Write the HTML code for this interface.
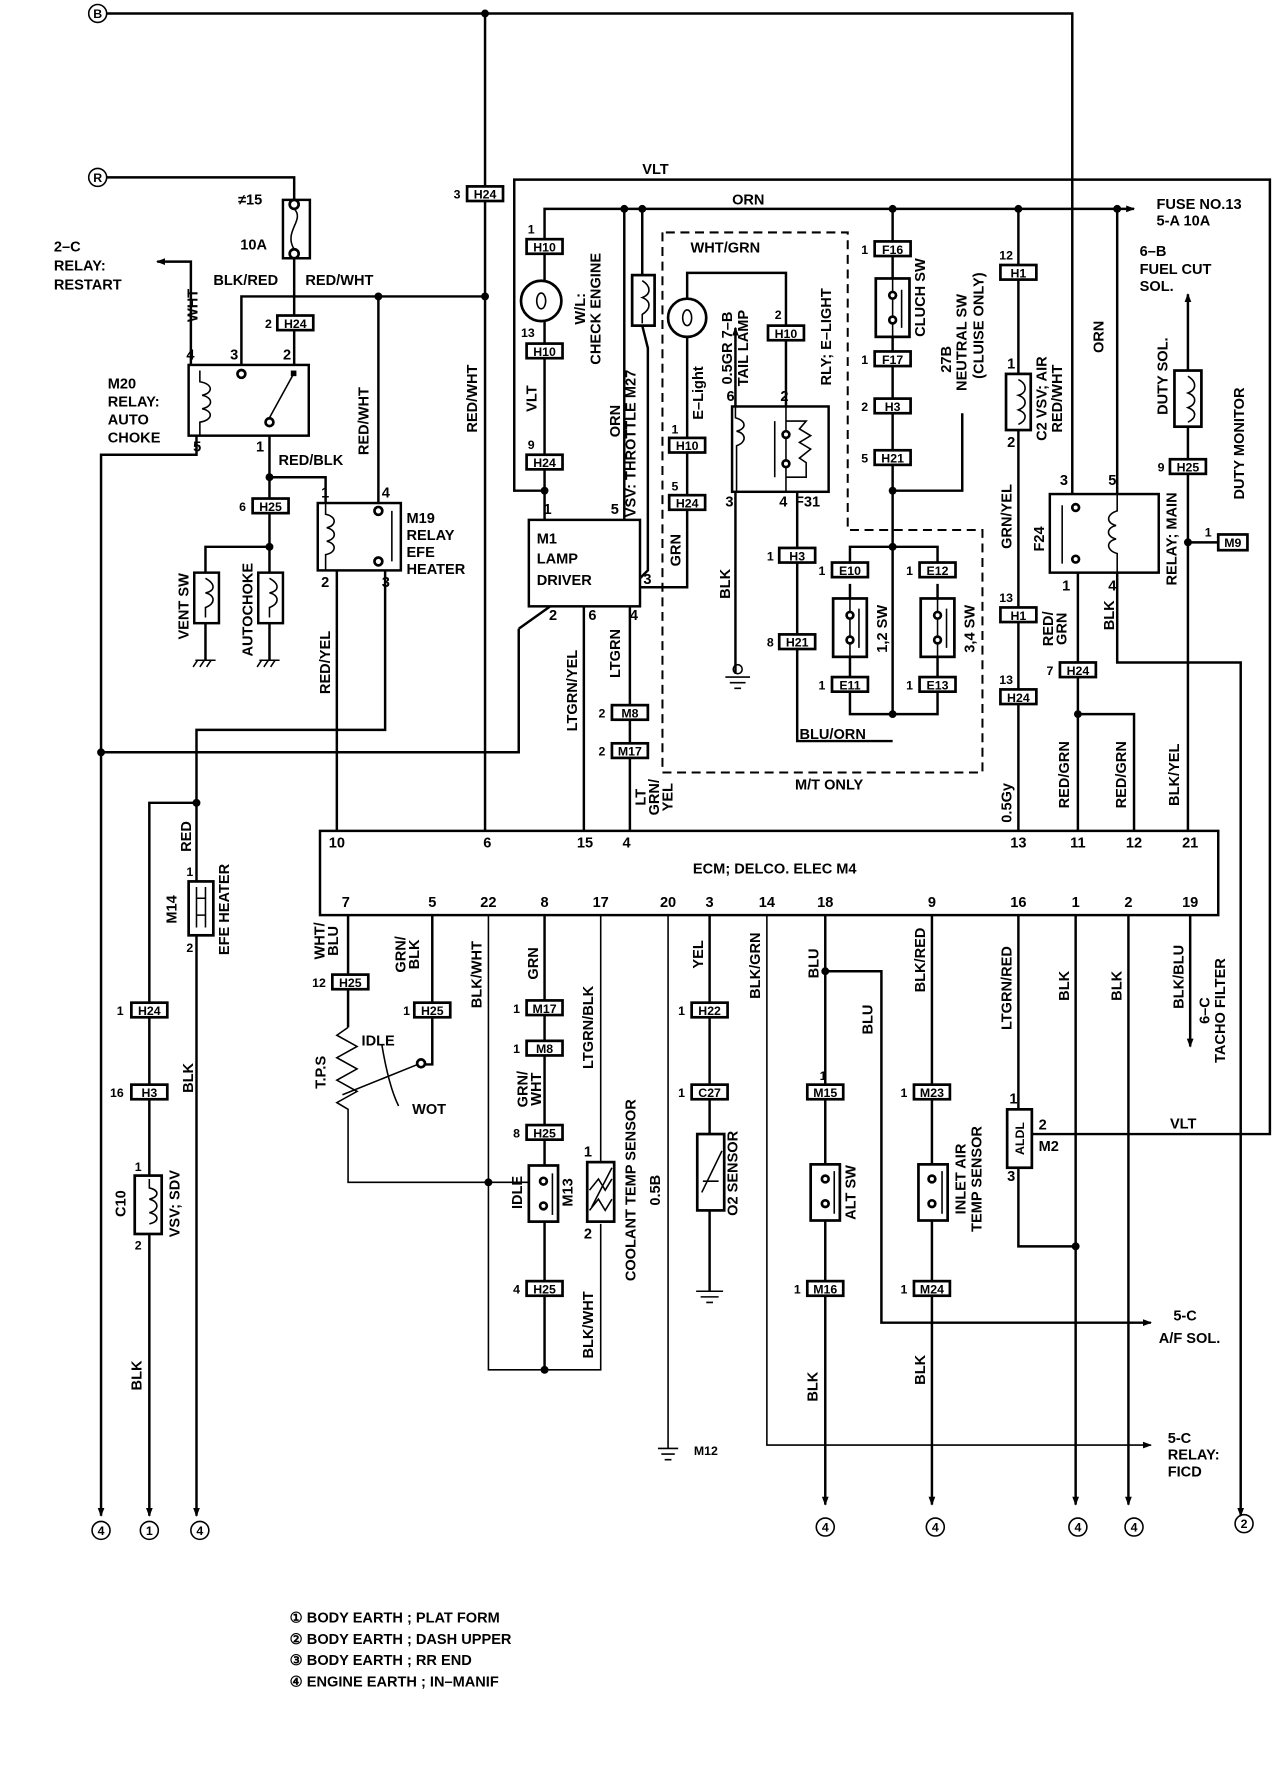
<!DOCTYPE html>
<html><head><meta charset="utf-8"><style>
html,body{margin:0;padding:0;background:#fff}
svg{display:block}
text{font-family:"Liberation Sans",sans-serif;font-weight:bold;font-size:13px;fill:#000}
.w{stroke:#000;stroke-width:2.2;fill:none}
.t{stroke:#000;stroke-width:1.4;fill:none}
.d{stroke:#000;stroke-width:1.8;fill:none;stroke-dasharray:8 5}
.b{stroke:#000;stroke-width:2.4;fill:#fff}
.c{font-size:11px}
.j{fill:#000}
</style></head><body>
<svg width="1280" height="1768" viewBox="0 0 1140 1574.6" xmlns="http://www.w3.org/2000/svg">
<defs>
<marker id="a" markerWidth="8" markerHeight="8" refX="7" refY="4" orient="auto" markerUnits="userSpaceOnUse"><path d="M0,1 L8,4 L0,7 Z"/></marker>
</defs>

<!-- B & R -->
<circle cx="87" cy="12" r="8" class="t" stroke-width="2"/><text x="87" y="16" text-anchor="middle" class="c">B</text>
<path class="w" d="M95,12 H955 V440"/>
<circle cx="432" cy="12" r="3.5" class="j"/>
<circle cx="87" cy="158" r="8" class="t" stroke-width="2"/><text x="87" y="162" text-anchor="middle" class="c">R</text>
<path class="w" d="M95,158 H262 V178"/>
<!-- fuse -->
<rect x="252" y="178" width="24" height="52" class="w"/>
<circle cx="262" cy="182" r="4" class="b"/><circle cx="262" cy="226" r="4" class="b"/>
<path class="t" d="M262,186 C272,196 252,206 262,222"/>
<text x="212" y="182">≠15</text><text x="214" y="222">10A</text>
<path class="w" d="M262,230 V325"/>
<rect x="247" y="281" width="32" height="13" class="b"/><text x="263" y="292" text-anchor="middle" class="c">H24</text><text x="236" y="292" class="c">2</text>
<text x="190" y="254">BLK/RED</text><text x="272" y="254">RED/WHT</text>
<path class="w" d="M215,325 V264 H432"/>
<circle cx="432" cy="264" r="3.5" class="j"/><circle cx="337" cy="264" r="3.5" class="j"/>
<path class="w" d="M337,264 V448"/>
<!-- 2-C -->
<text x="48" y="224">2–C</text><text x="48" y="241">RELAY:</text><text x="48" y="258">RESTART</text>
<path class="w" d="M170,325 V233 H140" marker-end="url(#a)"/>
<text transform="rotate(-90 176 272)" x="176" y="272" text-anchor="middle">WHT</text>
<!-- M20 -->
<rect x="168" y="325" width="107" height="63" class="w"/>
<path class="t" d="M178,330 V340 C190,342 190,350 180,352 C190,354 190,362 180,364 C190,366 190,374 178,376 V388"/>
<circle cx="215" cy="333" r="3.5" class="b"/><circle cx="240" cy="376" r="3.5" class="b"/>
<path class="t" d="M240,372 L262,332"/><rect x="259" y="330" width="5" height="5" class="j"/>
<text x="166" y="320">4</text><text x="205" y="320">3</text><text x="252" y="320">2</text>
<text x="96" y="346">M20</text><text x="96" y="362">RELAY:</text><text x="96" y="378">AUTO</text><text x="96" y="394">CHOKE</text>
<text x="172" y="402">5</text><text x="228" y="402">1</text>
<path class="w" d="M175,388 V405 H90 V1350" marker-end="url(#a)"/>
<path class="w" d="M240,388 V487"/>
<circle cx="240" cy="425" r="3.5" class="j"/>
<path class="w" d="M240,425 H290 V448"/>
<text x="248" y="414">RED/BLK</text>
<rect x="225" y="444" width="32" height="13" class="b"/><text x="241" y="455" text-anchor="middle" class="c">H25</text><text x="213" y="455" class="c">6</text>
<circle cx="240" cy="487" r="3.5" class="j"/>
<path class="w" d="M240,487 H183 V510"/>
<rect x="173" y="510" width="22" height="45" class="w"/><rect x="230" y="510" width="22" height="45" class="w"/>
<path class="t" d="M183,515 C192,520 192,526 183,528 C192,530 192,538 183,541 V550 M240,515 C249,520 249,526 240,528 C249,530 249,538 240,541 V550"/>
<path class="w" d="M240,487 V510 M183,555 V588 M240,555 V588"/>
<path class="t" d="M174,588 H192 M176,588 L172,594 M182,588 L178,594 M188,588 L184,594 M231,588 H249 M233,588 L229,594 M239,588 L235,594 M245,588 L241,594"/>
<text transform="rotate(-90 168 540)" x="168" y="540" text-anchor="middle">VENT SW</text>
<text transform="rotate(-90 225 543)" x="225" y="543" text-anchor="middle">AUTOCHOKE</text>
<!-- M19 -->
<rect x="283" y="448" width="74" height="60" class="w"/>
<path class="t" d="M290,448 V458 C300,460 300,468 291,470 C300,472 300,480 291,482 C300,484 300,492 290,494 V508 M349,455 V500"/>
<circle cx="337" cy="455" r="3.5" class="b"/><circle cx="337" cy="500" r="3.5" class="b"/>
<text x="286" y="443">1</text><text x="340" y="443">4</text><text x="286" y="523">2</text><text x="340" y="523">3</text>
<text x="362" y="466">M19</text><text x="362" y="481">RELAY</text><text x="362" y="496">EFE</text><text x="362" y="511">HEATER</text>
<text transform="rotate(-90 328 375)" x="328" y="375" text-anchor="middle">RED/WHT</text>
<path class="w" d="M300,508 V740"/>
<text transform="rotate(-90 294 590)" x="294" y="590" text-anchor="middle">RED/YEL</text>
<path class="w" d="M343,508 V650 H175 V1350" marker-end="url(#a)"/>
<circle cx="175" cy="715" r="3.5" class="j"/>
<path class="w" d="M175,715 H133 V1350" marker-end="url(#a)"/>
<path class="w" d="M462,560 L490,540 M462,560 V670 H90"/>
<circle cx="90" cy="670" r="3.5" class="j"/>
<!-- M14 -->
<text transform="rotate(-90 170 745)" x="170" y="745" text-anchor="middle">RED</text>
<text x="166" y="780" class="c">1</text><text x="166" y="848" class="c">2</text>
<rect x="168" y="785" width="22" height="48" class="b"/>
<path class="t" d="M175,790 V826 M183,790 V826 M175,800 H183 M175,815 H183"/>
<text transform="rotate(-90 157 810)" x="157" y="810" text-anchor="middle">M14</text>
<text transform="rotate(-90 204 810)" x="204" y="810" text-anchor="middle">EFE HEATER</text>
<rect x="117" y="893" width="32" height="13" class="b"/><text x="133" y="904" text-anchor="middle" class="c">H24</text><text x="104" y="904" class="c">1</text>
<rect x="117" y="966" width="32" height="13" class="b"/><text x="133" y="977" text-anchor="middle" class="c">H3</text><text x="98" y="977" class="c">16</text>
<text transform="rotate(-90 172 960)" x="172" y="960" text-anchor="middle">BLK</text>
<rect x="120" y="1047" width="24" height="52" class="b"/>
<path class="t" d="M133,1050 V1058 C142,1060 142,1066 133,1068 C142,1070 142,1078 133,1080 C142,1082 142,1088 133,1090"/>
<text x="120" y="1043" class="c">1</text><text x="120" y="1113" class="c">2</text>
<text transform="rotate(-90 112 1072)" x="112" y="1072" text-anchor="middle">C10</text>
<text transform="rotate(-90 160 1072)" x="160" y="1072" text-anchor="middle">VSV; SDV</text>
<text transform="rotate(-90 126 1225)" x="126" y="1225" text-anchor="middle">BLK</text>
<circle cx="90" cy="1363" r="8" class="t" stroke-width="2"/><text x="90" y="1367" text-anchor="middle" class="c">4</text>
<circle cx="133" cy="1363" r="8" class="t" stroke-width="2"/><text x="133" y="1367" text-anchor="middle" class="c">1</text>
<circle cx="178" cy="1363" r="8" class="t" stroke-width="2"/><text x="178" y="1367" text-anchor="middle" class="c">4</text>

<!-- x=432 -->
<path class="w" d="M432,12 V740"/>
<rect x="416" y="166" width="32" height="13" class="b"/><text x="432" y="177" text-anchor="middle" class="c">H24</text><text x="404" y="177" class="c">3</text>
<text transform="rotate(-90 425 355)" x="425" y="355" text-anchor="middle">RED/WHT</text>

<!-- VLT line -->
<path class="w" d="M485,437 H458 V160 H1131 V1010 H920"/>
<text x="572" y="155">VLT</text>
<text x="1042" y="1005">VLT</text>
<!-- ORN line -->
<path class="w" d="M485,463 V186 H1010" marker-end="url(#a)"/>
<circle cx="556" cy="186" r="3.5" class="j"/><circle cx="572" cy="186" r="3.5" class="j"/><circle cx="795" cy="186" r="3.5" class="j"/><circle cx="907" cy="186" r="3.5" class="j"/><circle cx="995" cy="186" r="3.5" class="j"/>
<text x="652" y="182">ORN</text>
<text x="1030" y="186">FUSE NO.13</text><text x="1030" y="201">5-A 10A</text>
<text x="1015" y="228">6–B</text><text x="1015" y="244">FUEL CUT</text><text x="1015" y="259">SOL.</text>
<!-- check engine -->
<rect x="469" y="213" width="32" height="13" class="b"/><text x="485" y="224" text-anchor="middle" class="c">H10</text><text x="470" y="208" class="c">1</text>
<circle cx="482" cy="268" r="18" class="b"/><ellipse cx="482" cy="268" rx="4" ry="7" class="t"/>
<rect x="469" y="306" width="32" height="13" class="b"/><text x="485" y="317" text-anchor="middle" class="c">H10</text><text x="464" y="300" class="c">13</text>
<text transform="rotate(-90 478 355)" x="478" y="355" text-anchor="middle">VLT</text>
<rect x="469" y="405" width="32" height="13" class="b"/><text x="485" y="416" text-anchor="middle" class="c">H24</text><text x="470" y="400" class="c">9</text>
<circle cx="485" cy="437" r="3.5" class="j"/>
<text transform="rotate(-90 521 275)" x="521" y="275" text-anchor="middle">W/L:</text>
<text transform="rotate(-90 535 275)" x="535" y="275" text-anchor="middle">CHECK  ENGINE</text>
<!-- M1 -->
<path class="w" d="M556,186 V463"/>
<text transform="rotate(-90 552 375)" x="552" y="375" text-anchor="middle">ORN</text>
<rect x="563" y="245" width="20" height="45" class="b"/>
<path class="t" d="M572,250 C580,255 580,262 572,265 C580,268 580,275 572,280 V288"/>
<path class="w" d="M572,186 V245 M572,290 L577,310 V508 L570,515"/>
<text transform="rotate(-90 566 395)" x="566" y="395" text-anchor="middle">VSV: THROTTLE M27</text>
<rect x="471" y="463" width="99" height="77" class="w"/>
<text x="478" y="484">M1</text><text x="478" y="502">LAMP</text><text x="478" y="521">DRIVER</text>
<text x="484" y="458">1</text><text x="544" y="458">5</text><text x="573" y="520">3</text>
<text x="489" y="552">2</text><text x="524" y="552">6</text><text x="561" y="552">4</text>
<path class="w" d="M520,540 V740 M561,540 V740"/>
<text transform="rotate(-90 514 615)" x="514" y="615" text-anchor="middle">LTGRN/YEL</text>
<text transform="rotate(-90 552 582)" x="552" y="582" text-anchor="middle">LTGRN</text>
<rect x="545" y="628" width="32" height="13" class="b"/><text x="561" y="639" text-anchor="middle" class="c">M8</text><text x="533" y="639" class="c">2</text>
<rect x="545" y="662" width="32" height="13" class="b"/><text x="561" y="673" text-anchor="middle" class="c">M17</text><text x="533" y="673" class="c">2</text>
<text transform="rotate(-90 575 710)" x="575" y="710" text-anchor="middle">LT</text>
<text transform="rotate(-90 587 710)" x="587" y="710" text-anchor="middle">GRN/</text>
<text transform="rotate(-90 599 710)" x="599" y="710" text-anchor="middle">YEL</text>
<!-- E-light circuit -->
<path class="w" d="M570,523 H612 V243 H700 V362"/>
<text x="615" y="225">WHT/GRN</text>
<circle cx="612" cy="283" r="17" class="b"/><ellipse cx="612" cy="283" rx="4" ry="7" class="t"/>
<text transform="rotate(-90 626 350)" x="626" y="350" text-anchor="middle">E–Light</text>
<rect x="596" y="390" width="32" height="13" class="b"/><text x="612" y="401" text-anchor="middle" class="c">H10</text><text x="598" y="386" class="c">1</text>
<rect x="596" y="441" width="32" height="13" class="b"/><text x="612" y="452" text-anchor="middle" class="c">H24</text><text x="598" y="437" class="c">5</text>
<text transform="rotate(-90 606 490)" x="606" y="490" text-anchor="middle">GRN</text>
<rect x="684" y="290" width="32" height="13" class="b"/><text x="700" y="301" text-anchor="middle" class="c">H10</text><text x="690" y="284" class="c">2</text>
<text transform="rotate(-90 652 310)" x="652" y="310" text-anchor="middle">0.5GR  7–B</text>
<text transform="rotate(-90 666 310)" x="666" y="310" text-anchor="middle">TAIL   LAMP</text>
<text transform="rotate(-90 740 300)" x="740" y="300" text-anchor="middle">RLY;  E–LIGHT</text>
<rect x="652" y="362" width="86" height="76" class="w"/>
<path class="t" d="M655,362 V372 C665,375 665,382 656,384 C665,386 665,394 656,397 V438"/>
<path class="w" d="M655,362 V292" marker-end="url(#a)"/>
<path class="t" d="M700,362 V438 M690,375 V425 M700,375 H718 L712,382 L722,388 L712,394 L722,400 L712,408 L718,412 V425 H700"/>
<circle cx="700" cy="387" r="3" class="b"/><circle cx="700" cy="413" r="3" class="b"/>
<text x="647" y="357">6</text><text x="695" y="357">2</text>
<text x="646" y="451">3</text><text x="694" y="451">4</text><text x="708" y="451">F31</text>
<text transform="rotate(-90 650 520)" x="650" y="520" text-anchor="middle">BLK</text>
<path class="w" d="M655,438 V600"/>
<circle cx="657" cy="596" r="4" class="t"/>
<path class="t" d="M646,603 H668 M650,608 H664 M654,613 H660"/>
<path class="w" d="M710,438 V660 H795"/>
<rect x="694" y="488" width="32" height="13" class="b"/><text x="710" y="499" text-anchor="middle" class="c">H3</text><text x="683" y="499" class="c">1</text>
<rect x="694" y="565" width="32" height="13" class="b"/><text x="710" y="576" text-anchor="middle" class="c">H21</text><text x="683" y="576" class="c">8</text>
<text x="712" y="658">BLU/ORN</text>
<!-- dashed -->
<path class="d" d="M590,207 V688 H875 V472 H755 V207 H590"/>
<text x="708" y="703">M/T ONLY</text>
<!-- clutch -->
<path class="w" d="M795,186 V636"/>
<rect x="779" y="215" width="32" height="13" class="b"/><text x="795" y="226" text-anchor="middle" class="c">F16</text><text x="767" y="226" class="c">1</text>
<rect x="780" y="248" width="30" height="52" class="b"/>
<path class="t" d="M795,248 V300 M803,258 V292"/><circle cx="795" cy="263" r="3" class="b"/><circle cx="795" cy="285" r="3" class="b"/>
<text transform="rotate(-90 824 265)" x="824" y="265" text-anchor="middle">CLUCH SW</text>
<rect x="779" y="313" width="32" height="13" class="b"/><text x="795" y="324" text-anchor="middle" class="c">F17</text><text x="767" y="324" class="c">1</text>
<rect x="779" y="355" width="32" height="13" class="b"/><text x="795" y="366" text-anchor="middle" class="c">H3</text><text x="767" y="366" class="c">2</text>
<rect x="779" y="401" width="32" height="13" class="b"/><text x="795" y="412" text-anchor="middle" class="c">H21</text><text x="767" y="412" class="c">5</text>
<circle cx="795" cy="437" r="3.5" class="j"/>
<path class="w" d="M795,437 H857 V368"/>
<text transform="rotate(-90 847 320)" x="847" y="320" text-anchor="middle">27B</text>
<text transform="rotate(-90 861 305)" x="861" y="305" text-anchor="middle">NEUTRAL   SW</text>
<text transform="rotate(-90 876 290)" x="876" y="290" text-anchor="middle">(CLUISE ONLY)</text>
<circle cx="795" cy="487" r="3.5" class="j"/><circle cx="795" cy="636" r="3.5" class="j"/>
<path class="w" d="M757,508 V487 H835 V508 M757,610 V636 H835 V610 M757,520 V603 M835,520 V603"/>
<rect x="741" y="501" width="32" height="13" class="b"/><text x="757" y="512" text-anchor="middle" class="c">E10</text><text x="729" y="512" class="c">1</text>
<rect x="819" y="501" width="32" height="13" class="b"/><text x="835" y="512" text-anchor="middle" class="c">E12</text><text x="807" y="512" class="c">1</text>
<rect x="742" y="533" width="30" height="52" class="b"/><rect x="820" y="533" width="30" height="52" class="b"/>
<path class="t" d="M757,533 V585 M765,542 V577 M835,533 V585 M843,542 V577"/>
<circle cx="757" cy="548" r="3" class="b"/><circle cx="757" cy="570" r="3" class="b"/><circle cx="835" cy="548" r="3" class="b"/><circle cx="835" cy="570" r="3" class="b"/>
<text transform="rotate(-90 790 560)" x="790" y="560" text-anchor="middle">1,2 SW</text>
<text transform="rotate(-90 868 560)" x="868" y="560" text-anchor="middle">3,4 SW</text>
<rect x="741" y="603" width="32" height="13" class="b"/><text x="757" y="614" text-anchor="middle" class="c">E11</text><text x="729" y="614" class="c">1</text>
<rect x="819" y="603" width="32" height="13" class="b"/><text x="835" y="614" text-anchor="middle" class="c">E13</text><text x="807" y="614" class="c">1</text>
<!-- x=907 -->
<path class="w" d="M907,186 V740"/>
<rect x="891" y="236" width="32" height="13" class="b"/><text x="907" y="247" text-anchor="middle" class="c">H1</text><text x="890" y="231" class="c">12</text>
<rect x="896" y="333" width="22" height="50" class="b"/>
<path class="t" d="M907,338 C915,342 915,350 907,352 C915,355 915,362 907,365 C915,368 915,374 907,378"/>
<text x="897" y="328">1</text><text x="897" y="398">2</text>
<text transform="rotate(-90 932 355)" x="932" y="355" text-anchor="middle">C2  VSV; AIR</text>
<text transform="rotate(-90 946 355)" x="946" y="355" text-anchor="middle">RED/WHT</text>
<text transform="rotate(-90 901 460)" x="901" y="460" text-anchor="middle">GRN/YEL</text>
<rect x="891" y="541" width="32" height="13" class="b"/><text x="907" y="552" text-anchor="middle" class="c">H1</text><text x="890" y="536" class="c">13</text>
<rect x="891" y="614" width="32" height="13" class="b"/><text x="907" y="625" text-anchor="middle" class="c">H24</text><text x="890" y="609" class="c">13</text>
<text transform="rotate(-90 901 715)" x="901" y="715" text-anchor="middle">0.5Gy</text>
<!-- relay main -->
<rect x="935" y="440" width="97" height="70" class="w"/>
<path class="t" d="M946,450 V502"/><circle cx="958" cy="452" r="3" class="b"/><circle cx="958" cy="498" r="3" class="b"/>
<path class="t" d="M995,440 V455 C985,458 985,466 994,468 C985,470 985,478 994,480 C985,482 985,490 995,493 V510"/>
<text x="944" y="432">3</text><text x="987" y="432">5</text><text x="946" y="526">1</text><text x="987" y="526">4</text>
<text transform="rotate(-90 930 480)" x="930" y="480" text-anchor="middle">F24</text>
<text transform="rotate(-90 1048 480)" x="1048" y="480" text-anchor="middle">RELAY; MAIN</text>
<text transform="rotate(-90 983 300)" x="983" y="300" text-anchor="middle">ORN</text>
<path class="w" d="M995,186 V440"/>
<path class="w" d="M960,510 V740 M960,636 H1010 V740"/>
<circle cx="960" cy="636" r="3.5" class="j"/>
<rect x="944" y="590" width="32" height="13" class="b"/><text x="960" y="601" text-anchor="middle" class="c">H24</text><text x="932" y="601" class="c">7</text>
<text transform="rotate(-90 938 560)" x="938" y="560" text-anchor="middle">RED/</text>
<text transform="rotate(-90 950 560)" x="950" y="560" text-anchor="middle">GRN</text>
<text transform="rotate(-90 952 690)" x="952" y="690" text-anchor="middle">RED/GRN</text>
<text transform="rotate(-90 1003 690)" x="1003" y="690" text-anchor="middle">RED/GRN</text>
<text transform="rotate(-90 992 548)" x="992" y="548" text-anchor="middle">BLK</text>
<path class="w" d="M995,510 V590 H1105 V1350" marker-end="url(#a)"/>
<circle cx="1108" cy="1357" r="8" class="t" stroke-width="2"/><text x="1108" y="1361" text-anchor="middle" class="c">2</text>
<!-- duty -->
<path class="w" d="M1058,740 V340 M1058,330 V262" marker-end="url(#a)"/>
<rect x="1046" y="330" width="24" height="50" class="b"/>
<path class="t" d="M1058,335 C1066,340 1066,347 1058,350 C1066,353 1066,360 1058,363 C1066,366 1066,372 1058,376"/>
<text transform="rotate(-90 1040 335)" x="1040" y="335" text-anchor="middle">DUTY SOL.</text>
<rect x="1042" y="409" width="32" height="13" class="b"/><text x="1058" y="420" text-anchor="middle" class="c">H25</text><text x="1031" y="420" class="c">9</text>
<circle cx="1058" cy="483" r="3.5" class="j"/>
<path class="w" d="M1058,483 H1085"/>
<rect x="1085" y="476" width="26" height="14" class="b"/><text x="1098" y="487" text-anchor="middle" class="c">M9</text><text x="1073" y="478" class="c">1</text>
<text transform="rotate(-90 1108 395)" x="1108" y="395" text-anchor="middle">DUTY MONITOR</text>
<text transform="rotate(-90 1050 690)" x="1050" y="690" text-anchor="middle">BLK/YEL</text>

<!-- ECM -->
<rect x="285" y="740" width="800" height="75" class="w"/>
<text x="690" y="778" text-anchor="middle">ECM; DELCO. ELEC M4</text>
<g text-anchor="middle">
<text x="300" y="755">10</text><text x="434" y="755">6</text><text x="521" y="755">15</text><text x="558" y="755">4</text><text x="907" y="755">13</text><text x="960" y="755">11</text><text x="1010" y="755">12</text><text x="1060" y="755">21</text>
<text x="308" y="808">7</text><text x="385" y="808">5</text><text x="435" y="808">22</text><text x="485" y="808">8</text><text x="535" y="808">17</text><text x="595" y="808">20</text><text x="632" y="808">3</text><text x="683" y="808">14</text><text x="735" y="808">18</text><text x="830" y="808">9</text><text x="907" y="808">16</text><text x="958" y="808">1</text><text x="1005" y="808">2</text><text x="1060" y="808">19</text>
</g>
<!-- bottom wiring -->
<path class="w" d="M310,815 V915 M385,815 V948 H377"/>
<text transform="rotate(-90 289 838)" x="289" y="838" text-anchor="middle">WHT/</text>
<text transform="rotate(-90 301 838)" x="301" y="838" text-anchor="middle">BLU</text>
<rect x="296" y="868" width="32" height="13" class="b"/><text x="312" y="879" text-anchor="middle" class="c">H25</text><text x="278" y="879" class="c">12</text>
<text transform="rotate(-90 361 850)" x="361" y="850" text-anchor="middle">GRN/</text>
<text transform="rotate(-90 373 850)" x="373" y="850" text-anchor="middle">BLK</text>
<rect x="369" y="893" width="32" height="13" class="b"/><text x="385" y="904" text-anchor="middle" class="c">H25</text><text x="359" y="904" class="c">1</text>
<path class="t" stroke-width="2" d="M310,915 L300,922 L318,932 L300,942 L318,952 L300,962 L318,972 L300,982 L310,988 V1053 H485"/>
<circle cx="375" cy="947" r="3.5" class="b"/>
<path class="t" d="M305,975 L372,948 M340,930 C345,960 350,975 355,985" />
<text x="322" y="931">IDLE</text><text x="367" y="992">WOT</text>
<text transform="rotate(-90 290 955)" x="290" y="955" text-anchor="middle">T.P.S</text>
<path class="t" d="M435,815 V1220 H535 V1090"/>
<text transform="rotate(-90 429 868)" x="429" y="868" text-anchor="middle">BLK/WHT</text>
<circle cx="435" cy="1053" r="3.5" class="j"/>
<path class="w" d="M485,815 V1220"/>
<circle cx="485" cy="1220" r="3.5" class="j"/>
<text transform="rotate(-90 479 858)" x="479" y="858" text-anchor="middle">GRN</text>
<rect x="469" y="891" width="32" height="13" class="b"/><text x="485" y="902" text-anchor="middle" class="c">M17</text><text x="457" y="902" class="c">1</text>
<rect x="469" y="927" width="32" height="13" class="b"/><text x="485" y="938" text-anchor="middle" class="c">M8</text><text x="457" y="938" class="c">1</text>
<text transform="rotate(-90 470 970)" x="470" y="970" text-anchor="middle">GRN/</text>
<text transform="rotate(-90 482 970)" x="482" y="970" text-anchor="middle">WHT</text>
<rect x="469" y="1002" width="32" height="13" class="b"/><text x="485" y="1013" text-anchor="middle" class="c">H25</text><text x="457" y="1013" class="c">8</text>
<rect x="471" y="1038" width="26" height="50" class="b"/>
<path class="t" d="M492,1045 V1082"/><circle cx="484" cy="1052" r="3" class="b"/><circle cx="484" cy="1074" r="3" class="b"/>
<text transform="rotate(-90 465 1062)" x="465" y="1062" text-anchor="middle">IDLE</text>
<rect x="469" y="1141" width="32" height="13" class="b"/><text x="485" y="1152" text-anchor="middle" class="c">H25</text><text x="457" y="1152" class="c">4</text>
<path class="t" d="M535,815 V1035"/>
<text transform="rotate(-90 528 915)" x="528" y="915" text-anchor="middle">LTGRN/BLK</text>
<rect x="523" y="1035" width="24" height="53" class="b"/>
<path class="t" d="M527,1075 L545,1040 M525,1060 L533,1050 L539,1060 L545,1050 M525,1078 L533,1068 L539,1078 L545,1068"/>
<text x="520" y="1030">1</text><text x="520" y="1103">2</text>
<text transform="rotate(-90 510 1062)" x="510" y="1062" text-anchor="middle">M13</text>
<text transform="rotate(-90 566 1060)" x="566" y="1060" text-anchor="middle">COOLANT TEMP SENSOR</text>
<text transform="rotate(-90 528 1180)" x="528" y="1180" text-anchor="middle">BLK/WHT</text>
<path class="t" d="M595,815 V1290 M586,1290 H604 M589,1295 H601 M592,1300 H598"/>
<text transform="rotate(-90 588 1060)" x="588" y="1060" text-anchor="middle">0.5B</text>
<text x="618" y="1296" class="c">M12</text>
<path class="w" d="M632,815 V1150"/>
<path class="t" d="M620,1150 H644 M624,1155 H640 M629,1160 H635"/>
<text transform="rotate(-90 626 850)" x="626" y="850" text-anchor="middle">YEL</text>
<rect x="616" y="893" width="32" height="13" class="b"/><text x="632" y="904" text-anchor="middle" class="c">H22</text><text x="604" y="904" class="c">1</text>
<rect x="616" y="966" width="32" height="13" class="b"/><text x="632" y="977" text-anchor="middle" class="c">C27</text><text x="604" y="977" class="c">1</text>
<rect x="621" y="1010" width="24" height="68" class="b"/>
<path class="t" d="M625,1062 L643,1025 M626,1052 H640"/>
<text transform="rotate(-90 657 1045)" x="657" y="1045" text-anchor="middle">O2 SENSOR</text>
<path class="t" d="M683,815 V1287 H1025" marker-end="url(#a)"/>
<text transform="rotate(-90 677 860)" x="677" y="860" text-anchor="middle">BLK/GRN</text>
<text x="1040" y="1285">5-C</text><text x="1040" y="1300">RELAY:</text><text x="1040" y="1315">FICD</text>
<path class="w" d="M735,815 V1340" marker-end="url(#a)"/>
<circle cx="735" cy="865" r="3.5" class="j"/>
<path class="w" d="M735,865 H785 V1178 H1025" marker-end="url(#a)"/>
<text x="1045" y="1176">5-C</text><text x="1032" y="1196">A/F SOL.</text>
<text transform="rotate(-90 729 858)" x="729" y="858" text-anchor="middle">BLU</text>
<text transform="rotate(-90 777 908)" x="777" y="908" text-anchor="middle">BLU</text>
<text x="730" y="962" class="c">1</text>
<rect x="719" y="966" width="32" height="13" class="b"/><text x="735" y="977" text-anchor="middle" class="c">M15</text>
<rect x="722" y="1037" width="26" height="50" class="b"/>
<path class="t" d="M743,1043 V1081"/><circle cx="735" cy="1050" r="3" class="b"/><circle cx="735" cy="1072" r="3" class="b"/>
<text transform="rotate(-90 762 1062)" x="762" y="1062" text-anchor="middle">ALT SW</text>
<rect x="719" y="1141" width="32" height="13" class="b"/><text x="735" y="1152" text-anchor="middle" class="c">M16</text><text x="707" y="1152" class="c">1</text>
<text transform="rotate(-90 728 1235)" x="728" y="1235" text-anchor="middle">BLK</text>
<circle cx="735" cy="1360" r="8" class="t" stroke-width="2"/><text x="735" y="1364" text-anchor="middle" class="c">4</text>
<path class="w" d="M830,815 V1340" marker-end="url(#a)"/>
<text transform="rotate(-90 824 855)" x="824" y="855" text-anchor="middle">BLK/RED</text>
<rect x="814" y="966" width="32" height="13" class="b"/><text x="830" y="977" text-anchor="middle" class="c">M23</text><text x="802" y="977" class="c">1</text>
<rect x="818" y="1037" width="26" height="50" class="b"/>
<path class="t" d="M839,1043 V1081"/><circle cx="830" cy="1050" r="3" class="b"/><circle cx="830" cy="1072" r="3" class="b"/>
<text transform="rotate(-90 860 1050)" x="860" y="1050" text-anchor="middle">INLET AIR</text>
<text transform="rotate(-90 874 1050)" x="874" y="1050" text-anchor="middle">TEMP SENSOR</text>
<rect x="814" y="1141" width="32" height="13" class="b"/><text x="830" y="1152" text-anchor="middle" class="c">M24</text><text x="802" y="1152" class="c">1</text>
<text transform="rotate(-90 824 1220)" x="824" y="1220" text-anchor="middle">BLK</text>
<circle cx="833" cy="1360" r="8" class="t" stroke-width="2"/><text x="833" y="1364" text-anchor="middle" class="c">4</text>
<path class="w" d="M907,815 V988 M907,1040 V1110 H958"/>
<text transform="rotate(-90 901 880)" x="901" y="880" text-anchor="middle">LTGRN/RED</text>
<rect x="897" y="988" width="22" height="52" class="b"/>
<text transform="rotate(-90 912 1014)" x="912" y="1014" text-anchor="middle" class="c">ALDL</text>
<text x="899" y="983">1</text><text x="925" y="1006">2</text><text x="925" y="1025">M2</text><text x="897" y="1052">3</text>
<path class="w" d="M958,815 V1340" marker-end="url(#a)"/>
<circle cx="958" cy="1110" r="3.5" class="j"/>
<text transform="rotate(-90 952 878)" x="952" y="878" text-anchor="middle">BLK</text>
<circle cx="960" cy="1360" r="8" class="t" stroke-width="2"/><text x="960" y="1364" text-anchor="middle" class="c">4</text>
<path class="w" d="M1005,815 V1340" marker-end="url(#a)"/>
<text transform="rotate(-90 999 878)" x="999" y="878" text-anchor="middle">BLK</text>
<circle cx="1010" cy="1360" r="8" class="t" stroke-width="2"/><text x="1010" y="1364" text-anchor="middle" class="c">4</text>
<path class="w" d="M1060,815 V932" marker-end="url(#a)"/>
<text transform="rotate(-90 1054 870)" x="1054" y="870" text-anchor="middle">BLK/BLU</text>
<text transform="rotate(-90 1077 900)" x="1077" y="900" text-anchor="middle">6–C</text>
<text transform="rotate(-90 1091 900)" x="1091" y="900" text-anchor="middle">TACHO FILTER</text>

<!-- legend -->
<g font-size="13">
<text x="258" y="1445">① BODY EARTH ; PLAT FORM</text>
<text x="258" y="1464">② BODY EARTH ; DASH UPPER</text>
<text x="258" y="1483">③ BODY EARTH ; RR END</text>
<text x="258" y="1502">④ ENGINE EARTH ; IN–MANIF</text>
</g>
</svg>
</body></html>
